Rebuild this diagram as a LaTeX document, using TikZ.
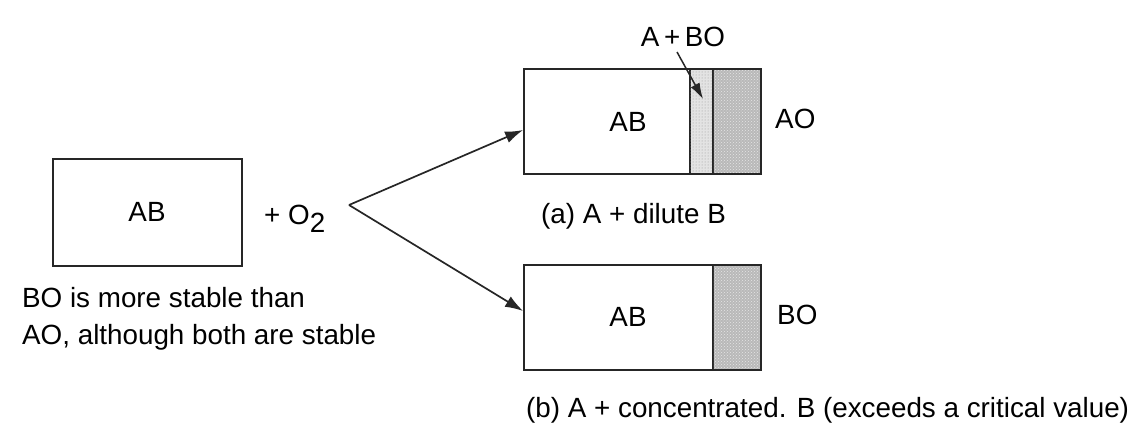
\documentclass[tikz,border=0pt]{standalone}
\usepackage{fontspec}
\setmainfont{Liberation Sans}
\usetikzlibrary{arrows.meta,patterns,calc}
\begin{document}
\begin{tikzpicture}[x=1pt,y=-1pt,
  txt/.style={font=\fontsize{27.8}{33}\selectfont, inner sep=0pt},
  box/.style={draw=black!85, line width=1.8pt, inner sep=0pt},
  arr/.style={line width=1.7pt, draw=black!85, -{Latex[length=18pt,width=12pt]}},
  light/.style={fill=gray!22, postaction={pattern=dots, pattern color=gray!80}},
  dense/.style={fill=gray!55, postaction={pattern=crosshatch dots, pattern color=gray!20}}
]
\useasboundingbox (0,0) rectangle (1141,423);
% left box
\node[box, minimum width=189pt, minimum height=107pt] (ab) at (147.5,212.5) {};
\node[txt] (abt) at (147,212) {AB};
\node[txt, anchor=base west] (o2) at (264,224) {+ O\raisebox{-0.3em}{2}};
\node[txt, anchor=base west] (l1) at (22,307) {BO is more stable than};
\node[txt, anchor=base west] (l2) at (22,344) {AO, although both are stable};
% top box
\filldraw[light, draw=black!85, line width=1.8pt] (690,69) rectangle (713,174);
\filldraw[dense, draw=black!85, line width=1.8pt] (713,69) rectangle (761,174);
\node[box, minimum width=237pt, minimum height=105pt] (top) at (642.5,121.5) {};
\node[txt] (topab) at (628,122) {AB};
\node[txt, anchor=base west] (ao) at (775,128) {AO};
\node[txt] (abo) at (683,37) {A\,+\,BO};
\coordinate (strip) at (703,99);
\coordinate (abofoot) at (677,52);
\draw[line width=1.5pt, draw=black!85, -{Latex[length=16pt,width=10pt]}] (abofoot) -- (strip);
\node[txt, anchor=base west] (capa) at (541,223) {(a) A + dilute B};
% bottom box
\filldraw[dense, draw=black!85, line width=1.8pt] (713,265) rectangle (761,370);
\node[box, minimum width=237pt, minimum height=105pt] (bot) at (642.5,317.5) {};
\node[txt] (botab) at (628,317) {AB};
\node[txt, anchor=base west] (bo) at (777,324) {BO};
\node[txt, anchor=base west] (capb) at (526,417) {(b) A + concentrated. B (exceeds a critical value)};
% arrows
\coordinate (v) at (349,205);
\draw[arr] (v) -- ([yshift=-8.5pt]top.west);
\draw[arr] (v) -- ([yshift=6.5pt]bot.west);
\end{tikzpicture}
\end{document}
